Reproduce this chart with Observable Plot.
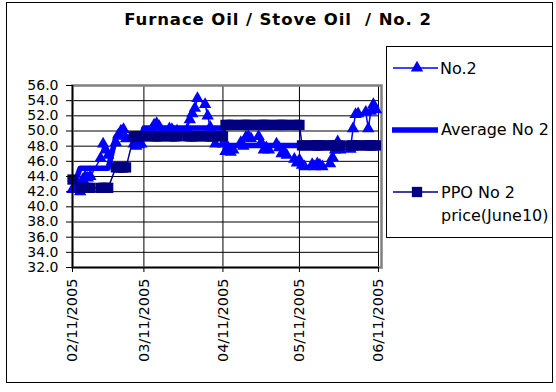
<!DOCTYPE html>
<html><head><meta charset="utf-8">
<script src="https://cdn.jsdelivr.net/npm/d3@7"></script>
<script src="https://cdn.jsdelivr.net/npm/@observablehq/plot@0.6"></script>
<style>
html,body{margin:0;padding:0;background:#fff;}
#chart{position:relative;width:556px;height:392px;overflow:hidden;background:#fff;font-family:"DejaVu Sans",sans-serif;}
#border{position:absolute;left:6px;top:2px;width:547px;height:381px;border:1px solid #000;box-sizing:border-box;}
#title{position:absolute;left:0;top:10px;width:556px;text-align:center;font-weight:bold;font-size:16.5px;line-height:19px;white-space:pre;letter-spacing:0.9px;color:#000;}
#plot{position:absolute;left:0;top:0;}
#legend{position:absolute;left:386px;top:46px;}
</style></head>
<body>
<div id="chart"><div id="border"></div><div id="plot"></div><div id="title">Furnace Oil / Stove Oil  / No. 2</div><div id="legend"></div></div>
<script>
// ---- data ----
const dates = [
 "2005-02-11","2005-02-14","2005-02-15","2005-02-16","2005-02-17","2005-02-18","2005-02-22","2005-02-23","2005-02-24","2005-02-25","2005-02-28",
 "2005-03-01","2005-03-02","2005-03-03","2005-03-04","2005-03-07","2005-03-08","2005-03-09","2005-03-10","2005-03-11","2005-03-14","2005-03-15",
 "2005-03-16","2005-03-17","2005-03-18","2005-03-21","2005-03-22","2005-03-23","2005-03-24","2005-03-28","2005-03-29","2005-03-30","2005-03-31",
 "2005-04-01","2005-04-04","2005-04-05","2005-04-06","2005-04-07","2005-04-08","2005-04-11","2005-04-12","2005-04-13","2005-04-14","2005-04-15",
 "2005-04-18","2005-04-19","2005-04-20","2005-04-21","2005-04-22","2005-04-25","2005-04-26","2005-04-27","2005-04-28","2005-04-29",
 "2005-05-02","2005-05-03","2005-05-04","2005-05-05","2005-05-06","2005-05-09","2005-05-10","2005-05-11","2005-05-12","2005-05-13",
 "2005-05-16","2005-05-17","2005-05-18","2005-05-19","2005-05-20","2005-05-23","2005-05-24","2005-05-25","2005-05-26","2005-05-27","2005-05-31",
 "2005-06-01","2005-06-02","2005-06-03","2005-06-06","2005-06-07","2005-06-08","2005-06-09","2005-06-10"
];
const no2 = [
 42.3,42.0,43.6,44.0,43.8,44.0,46.4,48.3,47.5,46.8,48.5,
 49.5,50.0,50.2,49.0,48.3,48.0,48.2,48.3,49.5,50.2,50.8,
 51.0,50.6,50.0,50.3,50.2,49.8,50.0,50.2,51.5,52.3,53.0,
 54.3,53.5,52.0,50.5,49.5,48.3,48.3,47.3,47.8,47.2,47.5,
 48.5,48.0,49.2,49.3,49.0,49.3,48.5,47.5,47.8,47.5,
 48.3,47.8,47.0,47.2,46.8,46.3,45.8,46.2,45.5,45.3,
 45.6,45.3,45.7,45.5,45.3,45.7,46.5,47.5,48.6,47.5,47.6,
 50.3,52.2,52.3,52.5,50.3,52.6,53.5,52.8
];
const ppoStart = ["2005-02-11","2005-02-14","2005-02-28","2005-03-07","2005-04-12","2005-05-12"];
const ppoEnd   = ["2005-02-11","2005-02-25","2005-03-04","2005-04-11","2005-05-11","2005-06-10"];
const ppoValue = [43.6,42.5,45.2,49.3,50.8,48.1];
const avgStart = ["2005-02-11","2005-02-14","2005-02-28","2005-03-11","2005-04-12","2005-05-12"];
const avgEnd   = ["2005-02-11","2005-02-25","2005-03-10","2005-04-11","2005-05-11","2005-06-10"];
const avgValue = [42.3,45.1,49.2,50.4,48.1,48.2];
const xTickLabels = ["2005-02-11","2005-03-11","2005-04-11","2005-05-11","2005-06-11"];
const yTickValues = [32,34,36,38,40,42,44,46,48,50,52,54,56];
const seriesNames = ["No.2","Average No 2","PPO No 2 price(June10)"];

// ---- build table ----
const parse = d3.utcParse("%Y-%m-%d");
function lookup(d, starts, ends, vals){
  for (let k=0;k<starts.length;k++) if (d>=starts[k] && d<=ends[k]) return vals[k];
  return NaN;
}
const rows = dates.map((d,i)=>({
  date: parse(d),
  no2: no2[i],
  avg: lookup(d, avgStart, avgEnd, avgValue),
  ppo: lookup(d, ppoStart, ppoEnd, ppoValue)
}));
const xTicks = xTickLabels.map(parse);
const fmt = d3.utcFormat("%m/%d/%Y");
const BLUE = "#0000FF", NAVY = "#000080";

const plot = Plot.plot({
  width: 390, height: 392,
  marginLeft: 72, marginRight: 12, marginTop: 85, marginBottom: 125,
  style: {fontFamily: "DejaVu Sans, sans-serif", fontSize: "14px", color: "#000", background: "transparent"},
  x: {type: "utc", domain: [xTicks[0], xTicks[xTicks.length-1]]},
  y: {domain: [32, 56]},
  marks: [
    Plot.gridY(yTickValues, {stroke: "#000", strokeOpacity: 1, strokeWidth: 1}),
    Plot.gridX(xTicks, {stroke: "#000", strokeOpacity: 1, strokeWidth: 1}),
    Plot.frame({stroke: "#808080", strokeWidth: 2.5, insetRight: -3}),
    Plot.line(rows, {x: "date", y: "no2", stroke: BLUE, strokeWidth: 1.5}),
    Plot.dot(rows, {x: "date", y: "no2", symbol: "triangle", r: 4.6, fill: BLUE, stroke: "none"}),
    Plot.line(rows, {x: "date", y: "avg", stroke: BLUE, strokeWidth: 5.5}),
    Plot.line(rows, {x: "date", y: "ppo", stroke: NAVY, strokeWidth: 1.5}),
    Plot.dot(rows, {x: "date", y: "ppo", symbol: "square", r: 5.8, fill: NAVY, stroke: "none"}),
    Plot.ruleX([xTicks[0]], {stroke: "#000", strokeWidth: 1.5}),
    Plot.ruleY([32], {stroke: "#000", strokeWidth: 1.5}),
    Plot.axisY({ticks: yTickValues, tickFormat: d => d.toFixed(1), tickSize: 6, tickPadding: 8, label: null, fontSize: 14}),
    Plot.axisX({ticks: xTicks, tickFormat: fmt, tickRotate: -90, tickSize: 5, tickPadding: 6, label: null, fontSize: 14.5})
  ]
});
document.getElementById("plot").appendChild(plot);

// ---- legend ----
const W = 167, H = 192;
const ns = "http://www.w3.org/2000/svg";
const lg = d3.select("#legend").append("svg").attr("xmlns", ns).attr("width", W).attr("height", H)
  .style("font-family", "DejaVu Sans, sans-serif").style("font-size", "16px");
lg.append("rect").attr("x", 0.5).attr("y", 0.5).attr("width", W-1).attr("height", H-1).attr("fill", "#fff").attr("stroke", "#000");
// No.2
lg.append("line").attr("x1", 7).attr("x2", 52).attr("y1", 22).attr("y2", 22).attr("stroke", BLUE).attr("stroke-width", 1.5);
lg.append("path").attr("d", d3.symbol(d3.symbolTriangle, 4.6*4.6*Math.PI)()).attr("transform", "translate(31,22)").attr("fill", BLUE);
lg.append("text").attr("x", 54).attr("y", 28).text(seriesNames[0]);
// Average
lg.append("line").attr("x1", 6).attr("x2", 52).attr("y1", 84).attr("y2", 84).attr("stroke", BLUE).attr("stroke-width", 5.5);
lg.append("text").attr("x", 55).attr("y", 89).text(seriesNames[1]);
// PPO
lg.append("line").attr("x1", 7).attr("x2", 52).attr("y1", 146).attr("y2", 146).attr("stroke", NAVY).attr("stroke-width", 1.5);
lg.append("path").attr("d", d3.symbol(d3.symbolSquare, 5.8*5.8*Math.PI)()).attr("transform", "translate(31,146)").attr("fill", NAVY);
lg.append("text").attr("x", 55).attr("y", 152).text("PPO No 2");
lg.append("text").attr("x", 55).attr("y", 175).text("price(June10)");
</script>
</body></html>
